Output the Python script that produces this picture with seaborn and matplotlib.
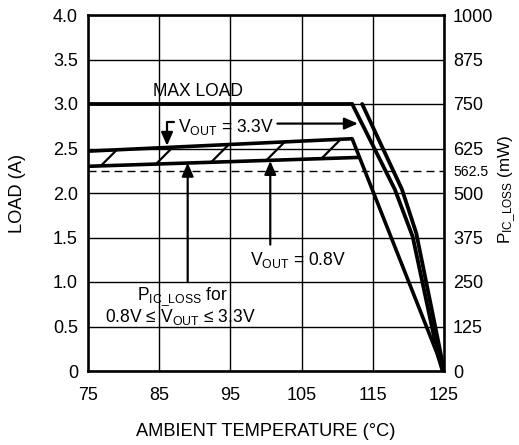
import matplotlib
matplotlib.use('Agg')
import matplotlib.pyplot as plt
import seaborn as sns

DPI = 160
W, H = 519, 445


def px(v):
    # pixel -> punti
    return v * 72.0 / DPI


# dati (temperatura in °C, carico in A, perdite in mW)
temp_max = [75, 112.1]
load_max = [3.0, 3.0]

temp_derate_a = [112.1, 118.1, 120.6, 124.2, 124.8]
load_derate_a = [3.0, 2.04, 1.51, 0.16, 0.0]
temp_derate_b = [113.5, 119.1, 121.1, 124.4, 125.0]
load_derate_b = [3.0, 2.04, 1.55, 0.25, 0.0]

temp_loss_33 = [75, 112.1, 125]
loss_33 = [617.5, 652.5, 0]
temp_loss_08 = [75, 113.1]
loss_08 = [575, 600]
limit_loss = 562.5

x_ticks = [75, 85, 95, 105, 115, 125]
load_ticks = [0, 0.5, 1.0, 1.5, 2.0, 2.5, 3.0, 3.5, 4.0]
load_labels = ['0', '0.5', '1.0', '1.5', '2.0', '2.5', '3.0', '3.5', '4.0']
loss_ticks = [0, 125, 250, 375, 500, 562.5, 625, 750, 875, 1000]
loss_labels = ['0', '125', '250', '375', '500', '562.5', '625', '750', '875', '1000']

sns.set_theme(style='white')
plt.rcParams['font.family'] = ['Liberation Sans', 'DejaVu Sans']
plt.rcParams['mathtext.fontset'] = 'custom'
plt.rcParams['mathtext.rm'] = 'Liberation Sans'
plt.rcParams['mathtext.it'] = 'Liberation Sans'
plt.rcParams['lines.scale_dashes'] = False
plt.rcParams['hatch.linewidth'] = px(2.2)
plt.rcParams['hatch.color'] = 'black'
plt.rcParams['text.color'] = 'black'
plt.rcParams['axes.labelcolor'] = 'black'

FS_TICK = px(18)
FS_ANN = px(17.5)
FS_LAB = px(18.3)

fig = plt.figure(figsize=(W / DPI, H / DPI), dpi=DPI)
ax = fig.add_axes([88 / W, 1 - 371 / H, 356 / W, 356 / H])
ax2 = ax.twinx()

# griglia
ax.set_xlim(75, 125)
ax.set_ylim(0, 4)
ax.set_xticks(x_ticks)
ax.set_yticks(load_ticks)
ax.set_yticklabels(load_labels)
ax.grid(True, color='black', linewidth=px(1.4))
for s in ax.spines.values():
    s.set_color('black')
    s.set_linewidth(px(2.6))
ax.tick_params(length=0, labelsize=FS_TICK, colors='black')
ax.tick_params(axis='x', pad=px(15.5))
ax.tick_params(axis='y', pad=px(10))

ax2.set_ylim(0, 1000)
ax2.set_yticks(loss_ticks)
ax2.set_yticklabels(loss_labels)
ax2.tick_params(length=0, labelsize=FS_TICK, colors='black', pad=px(9))
for lab in ax2.get_yticklabels():
    if lab.get_text() == '562.5':
        lab.set_fontsize(px(14))
for s in ax2.spines.values():
    s.set_visible(False)
ax2.grid(False)

# curve di carico
sns.lineplot(x=temp_max, y=load_max, ax=ax, color='black', linewidth=px(3.8))
sns.lineplot(x=temp_derate_a, y=load_derate_a, ax=ax, color='black', linewidth=px(3.8))
sns.lineplot(x=temp_derate_b, y=load_derate_b, ax=ax, color='black', linewidth=px(3.8))

# perdite
hx = temp_loss_33[:2] + temp_loss_08[::-1]
hy = loss_33[:2] + loss_08[::-1]
ax2.fill(hx, hy, facecolor='none', edgecolor='black', hatch='/', linewidth=0)
sns.lineplot(x=temp_loss_33, y=loss_33, ax=ax2, color='black', linewidth=px(3.6))
sns.lineplot(x=temp_loss_08, y=loss_08, ax=ax2, color='black', linewidth=px(3.6))
ax2.axhline(limit_loss, color='black', linewidth=px(1.4), dashes=(px(8), px(5)))
ax2.set_ylim(0, 1000)
ax2.set_xlim(75, 125)

# etichette assi
ax.set_xlabel('AMBIENT TEMPERATURE (°C)', fontsize=FS_LAB, color='black')
ax.xaxis.set_label_coords(0.5, -0.145)
ax.set_ylabel('LOAD (A)', fontsize=FS_LAB, color='black')
ax.yaxis.set_label_coords(-0.175, 0.5)
ax2.set_ylabel(r'P$_{\mathrm{IC\_LOSS}}$ (mW)', fontsize=px(17), color='black')
ax2.yaxis.set_label_coords(1.148, 0.51)

# annotazioni
arrow = dict(arrowstyle='-|>,head_length=0.8,head_width=0.35', color='black',
             linewidth=px(2.2), shrinkA=0, shrinkB=0, mutation_scale=px(14))

ax.text(90.5, 3.09, 'MAX LOAD', fontsize=FS_ANN, ha='center', va='baseline')

ax.text(87.6, 2.69, r'V$_{\mathrm{OUT}}$ = 3.3V', fontsize=FS_ANN, ha='left', va='baseline')
ax.annotate('', xy=(86.1, 2.53), xytext=(87.1, 2.80),
            arrowprops=dict(arrow, connectionstyle='angle,angleA=0,angleB=90,rad=0'))
ax.annotate('', xy=(112.9, 2.78), xytext=(101.6, 2.78), arrowprops=arrow)

ax.text(97.75, 1.19, r'V$_{\mathrm{OUT}}$ = 0.8V', fontsize=FS_ANN, ha='left', va='baseline')
ax.annotate('', xy=(100.6, 2.36), xytext=(100.6, 1.42), arrowprops=arrow)

ax.text(81.9, 0.80, r'P$_{\mathrm{IC\_LOSS}}$ for', fontsize=FS_ANN, ha='left', va='baseline')
ax.text(77.4, 0.55, r'0.8V ≤ V$_{\mathrm{OUT}}$ ≤ 3.3V', fontsize=FS_ANN, ha='left',
        va='baseline')
ax.annotate('', xy=(89.0, 2.34), xytext=(89.0, 1.0), arrowprops=arrow)

fig.savefig('out.png', dpi=DPI)
